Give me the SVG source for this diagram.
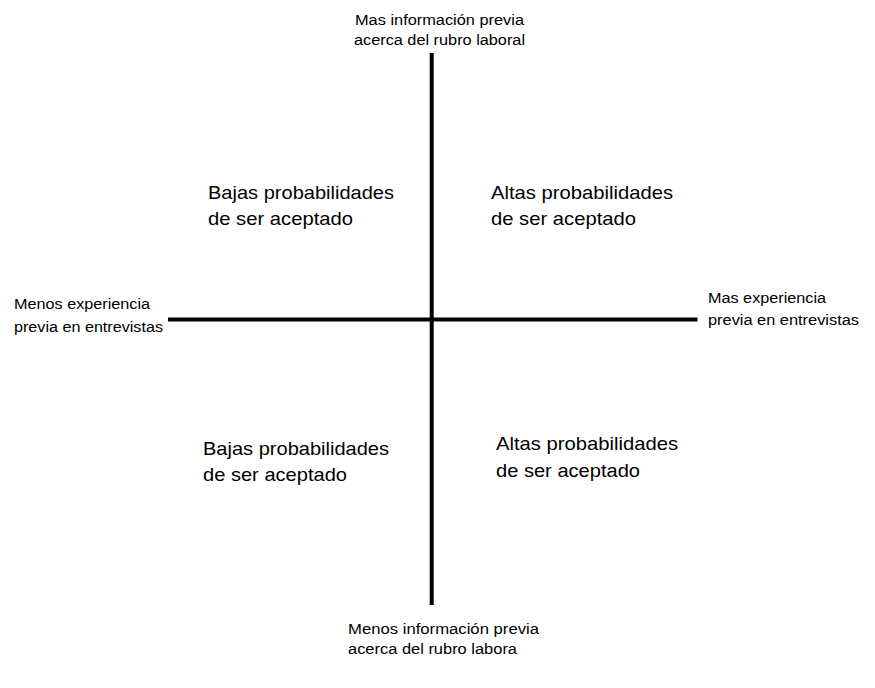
<svg xmlns="http://www.w3.org/2000/svg" width="875" height="688" viewBox="0 0 875 688">
<style>
text{font-family:"Liberation Sans","Open Sans",Arial,sans-serif;fill:#000}
.s{font-size:15.5px}
.q{font-size:18.5px}
.ax{stroke:#000;stroke-width:4;fill:none}
</style>
<rect width="875" height="688" fill="#fff"/>
<g id="connectors">
<line class="ax" x1="431.7" y1="53" x2="431.7" y2="605"/>
<line class="ax" x1="168" y1="319.5" x2="697.5" y2="319.5"/>
</g>
<g id="top-label">
<text class="s" x="355" y="25" textLength="169" lengthAdjust="spacingAndGlyphs">Mas información previa</text>
<text class="s" x="354" y="45" textLength="171" lengthAdjust="spacingAndGlyphs">acerca del rubro laboral</text>
</g>
<g id="bottom-label">
<text class="s" x="348" y="633.5" textLength="191" lengthAdjust="spacingAndGlyphs">Menos información previa</text>
<text class="s" x="348" y="653.5" textLength="169" lengthAdjust="spacingAndGlyphs">acerca del rubro labora</text>
</g>
<g id="left-label">
<text class="s" x="14" y="309" textLength="136" lengthAdjust="spacingAndGlyphs">Menos experiencia</text>
<text class="s" x="14" y="331.5" textLength="149" lengthAdjust="spacingAndGlyphs">previa en entrevistas</text>
</g>
<g id="right-label">
<text class="s" x="708" y="302.5" textLength="118" lengthAdjust="spacingAndGlyphs">Mas experiencia</text>
<text class="s" x="708" y="324.5" textLength="151" lengthAdjust="spacingAndGlyphs">previa en entrevistas</text>
</g>
<g id="q-top-left">
<text class="q" x="208" y="199" textLength="186" lengthAdjust="spacingAndGlyphs">Bajas probabilidades</text>
<text class="q" x="208" y="225" textLength="145" lengthAdjust="spacingAndGlyphs">de ser aceptado</text>
</g>
<g id="q-top-right">
<text class="q" x="491" y="198.5" textLength="182" lengthAdjust="spacingAndGlyphs">Altas probabilidades</text>
<text class="q" x="491" y="225" textLength="145" lengthAdjust="spacingAndGlyphs">de ser aceptado</text>
</g>
<g id="q-bottom-left">
<text class="q" x="203" y="454.5" textLength="186" lengthAdjust="spacingAndGlyphs">Bajas probabilidades</text>
<text class="q" x="203" y="480.5" textLength="144" lengthAdjust="spacingAndGlyphs">de ser aceptado</text>
</g>
<g id="q-bottom-right">
<text class="q" x="496" y="450" textLength="182" lengthAdjust="spacingAndGlyphs">Altas probabilidades</text>
<text class="q" x="496" y="476.5" textLength="144" lengthAdjust="spacingAndGlyphs">de ser aceptado</text>
</g>
</svg>
